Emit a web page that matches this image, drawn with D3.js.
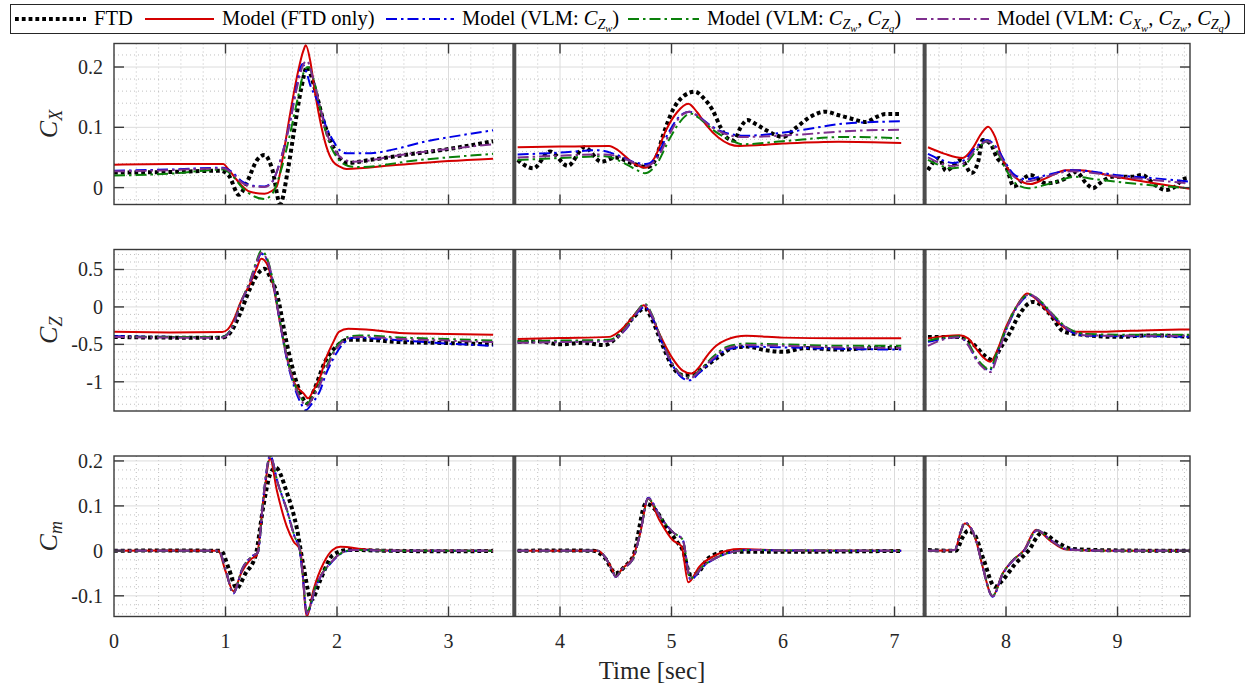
<!DOCTYPE html>
<html>
<head>
<meta charset="utf-8">
<script src="https://cdn.jsdelivr.net/npm/d3@7/dist/d3.min.js"></script>
<style>
  body { margin: 0; background: #fff; }
  svg { display: block; font-family: "Liberation Serif", "DejaVu Serif", serif; }
</style>
</head>
<body>
<svg id="chart" width="1249" height="687"></svg>
<script>
// ---- eixos / ticks ----
const xTicks = [0, 1, 2, 3, 4, 5, 6, 7, 8, 9];
const separators = [3.59, 7.27];
const cxTicks = [0, 0.1, 0.2];
const cxTickLabels = ['0', '0.1', '0.2'];
const czTicks = [-1, -0.5, 0, 0.5];
const czTickLabels = ['-1', '-0.5', '0', '0.5'];
const cmTicks = [-0.1, 0, 0.1, 0.2];
const cmTickLabels = ['-0.1', '0', '0.1', '0.2'];

// ---- C_X ----
const cx1Ftd = [[0,0.025],[0.5,0.026],[0.95,0.028],[1.03,0.02],[1.12,-0.012],[1.2,0.012],[1.28,0.045],[1.35,0.054],[1.42,0.03],[1.49,-0.027],[1.56,0.03],[1.62,0.10],[1.68,0.165],[1.73,0.200],[1.80,0.165],[1.88,0.11],[1.97,0.066],[2.09,0.041],[2.3,0.046],[2.56,0.053],[3.0,0.064],[3.40,0.077]];
const cx1Model = [[0,0.038],[0.5,0.039],[0.98,0.039],[1.02,0.032],[1.1,0.013],[1.22,-0.007],[1.35,-0.010],[1.41,-0.006],[1.46,0.002],[1.52,0.057],[1.58,0.123],[1.64,0.183],[1.70,0.228],[1.72,0.236],[1.76,0.21],[1.80,0.161],[1.86,0.101],[1.905,0.068],[1.965,0.043],[2.025,0.035],[2.085,0.031],[2.5,0.037],[3.0,0.044],[3.40,0.048]];
const cx1Zw = [[0,0.028],[0.5,0.030],[0.98,0.033],[1.05,0.027],[1.15,0.01],[1.25,0.003],[1.35,0.002],[1.42,0.01],[1.5,0.05],[1.58,0.11],[1.64,0.17],[1.69,0.205],[1.72,0.195],[1.76,0.17],[1.83,0.142],[1.905,0.10],[1.965,0.078],[2.025,0.062],[2.085,0.057],[2.26,0.057],[2.86,0.079],[3.40,0.095]];
const cx1ZwZq = [[0,0.020],[0.5,0.023],[0.98,0.030],[1.05,0.022],[1.15,0.0],[1.25,-0.014],[1.35,-0.019],[1.42,-0.01],[1.5,0.03],[1.58,0.09],[1.65,0.15],[1.71,0.195],[1.74,0.200],[1.79,0.18],[1.85,0.13],[1.92,0.08],[2.0,0.05],[2.1,0.036],[2.2,0.034],[2.7,0.045],[3.40,0.056]];
const cx1XwZwZq = [[0,0.027],[0.5,0.029],[0.98,0.032],[1.05,0.025],[1.15,0.008],[1.25,0.002],[1.35,0.001],[1.42,0.01],[1.5,0.05],[1.58,0.11],[1.64,0.165],[1.70,0.205],[1.73,0.210],[1.78,0.185],[1.84,0.14],[1.9,0.095],[1.97,0.065],[2.05,0.048],[2.15,0.043],[2.6,0.055],[3.40,0.072]];

const cx2Ftd = [[3.62,0.046],[3.76,0.032],[3.91,0.060],[4.07,0.036],[4.22,0.067],[4.37,0.043],[4.50,0.050],[4.65,0.040],[4.79,0.034],[4.86,0.049],[4.93,0.09],[5.01,0.128],[5.11,0.152],[5.21,0.159],[5.29,0.148],[5.37,0.128],[5.44,0.10],[5.50,0.082],[5.56,0.078],[5.62,0.10],[5.68,0.112],[5.76,0.105],[5.85,0.095],[6.0,0.084],[6.12,0.10],[6.25,0.118],[6.38,0.126],[6.50,0.12],[6.60,0.115],[6.74,0.109],[6.85,0.118],[6.92,0.122],[7.06,0.122]];
const cx2Model = [[3.62,0.067],[4.0,0.068],[4.44,0.069],[4.52,0.062],[4.59,0.051],[4.68,0.038],[4.77,0.033],[4.85,0.05],[4.95,0.095],[5.05,0.125],[5.15,0.139],[5.23,0.125],[5.31,0.104],[5.42,0.083],[5.52,0.072],[5.61,0.069],[6.0,0.073],[6.5,0.076],[7.06,0.074]];
const cx2Zw = [[3.62,0.055],[4.0,0.058],[4.35,0.062],[4.5,0.055],[4.65,0.043],[4.77,0.039],[4.86,0.05],[4.97,0.09],[5.07,0.118],[5.16,0.126],[5.25,0.117],[5.35,0.103],[5.45,0.093],[5.55,0.088],[5.65,0.086],[6.15,0.095],[6.54,0.106],[7.06,0.110]];
const cx2ZwZq = [[3.62,0.046],[4.0,0.049],[4.4,0.052],[4.55,0.043],[4.68,0.03],[4.76,0.024],[4.87,0.04],[4.98,0.08],[5.08,0.11],[5.17,0.123],[5.27,0.112],[5.4,0.092],[5.52,0.08],[5.64,0.072],[6.0,0.077],[6.54,0.084],[7.06,0.082]];
const cx2XwZwZq = [[3.62,0.050],[4.0,0.053],[4.4,0.055],[4.55,0.05],[4.68,0.04],[4.77,0.036],[4.87,0.048],[4.98,0.088],[5.08,0.118],[5.16,0.126],[5.26,0.115],[5.38,0.098],[5.5,0.088],[5.62,0.084],[6.15,0.088],[6.6,0.094],[7.06,0.096]];

const cx3Ftd = [[7.30,0.029],[7.40,0.049],[7.46,0.028],[7.60,0.046],[7.69,0.024],[7.75,0.043],[7.79,0.079],[7.86,0.073],[7.92,0.049],[8.00,0.035],[8.07,0.002],[8.18,0.018],[8.22,0.021],[8.36,0.007],[8.51,0.013],[8.63,0.026],[8.72,0.007],[8.78,-0.001],[8.84,0.007],[8.95,0.018],[9.13,0.018],[9.22,0.021],[9.34,0.004],[9.43,-0.004],[9.52,0.002],[9.58,0.013],[9.64,0.016]];
const cx3Model = [[7.30,0.067],[7.45,0.056],[7.61,0.049],[7.7,0.065],[7.78,0.09],[7.84,0.101],[7.9,0.085],[7.97,0.046],[8.03,0.028],[8.09,0.016],[8.22,0.006],[8.35,0.015],[8.54,0.029],[8.66,0.029],[8.98,0.018],[9.3,0.008],[9.65,-0.002]];
const cx3Zw = [[7.30,0.056],[7.42,0.046],[7.52,0.041],[7.62,0.045],[7.72,0.065],[7.83,0.079],[7.92,0.065],[8.0,0.04],[8.06,0.024],[8.18,0.014],[8.35,0.02],[8.59,0.029],[8.8,0.026],[8.98,0.021],[9.3,0.016],[9.65,0.010]];
const cx3ZwZq = [[7.30,0.046],[7.42,0.036],[7.52,0.032],[7.62,0.036],[7.72,0.058],[7.83,0.077],[7.92,0.06],[8.0,0.03],[8.1,0.005],[8.2,-0.001],[8.4,0.007],[8.62,0.018],[8.8,0.014],[8.98,0.010],[9.3,0.004],[9.65,-0.001]];
const cx3XwZwZq = [[7.30,0.050],[7.42,0.040],[7.52,0.036],[7.62,0.04],[7.72,0.062],[7.83,0.077],[7.92,0.062],[8.0,0.036],[8.06,0.02],[8.18,0.010],[8.35,0.018],[8.59,0.027],[8.8,0.024],[8.98,0.019],[9.3,0.013],[9.65,0.007]];

// ---- C_Z ----
const cz1Ftd = [[0,-0.40],[0.5,-0.41],[0.97,-0.41],[1.05,-0.33],[1.13,-0.09],[1.22,0.245],[1.30,0.46],[1.35,0.51],[1.40,0.40],[1.46,0.18],[1.55,-0.49],[1.64,-1.02],[1.74,-1.29],[1.80,-1.09],[1.90,-0.71],[2.0,-0.52],[2.09,-0.44],[2.26,-0.44],[2.56,-0.47],[2.9,-0.48],[3.40,-0.50]];
const cz1Model = [[0,-0.333],[0.5,-0.34],[0.97,-0.335],[1.02,-0.30],[1.08,-0.15],[1.13,0.045],[1.22,0.31],[1.28,0.52],[1.32,0.645],[1.37,0.58],[1.43,0.27],[1.49,-0.22],[1.55,-0.67],[1.62,-1.02],[1.70,-1.155],[1.74,-1.22],[1.79,-1.11],[1.85,-0.93],[1.90,-0.69],[1.96,-0.49],[2.02,-0.33],[2.10,-0.29],[2.26,-0.30],[2.56,-0.347],[3.0,-0.36],[3.40,-0.37]];
const cz1Zw = [[0,-0.39],[0.5,-0.40],[0.97,-0.40],[1.02,-0.36],[1.08,-0.2],[1.13,0.02],[1.22,0.33],[1.28,0.58],[1.32,0.71],[1.37,0.63],[1.43,0.30],[1.49,-0.22],[1.55,-0.70],[1.62,-1.08],[1.68,-1.30],[1.72,-1.38],[1.77,-1.30],[1.85,-1.11],[1.90,-0.9],[1.96,-0.71],[2.05,-0.50],[2.15,-0.41],[2.5,-0.44],[3.0,-0.49],[3.40,-0.52]];
const cz1ZwZq = [[0,-0.40],[0.5,-0.40],[0.97,-0.40],[1.02,-0.36],[1.08,-0.2],[1.13,0.03],[1.22,0.35],[1.28,0.62],[1.32,0.75],[1.37,0.66],[1.43,0.32],[1.49,-0.2],[1.55,-0.66],[1.62,-1.03],[1.68,-1.22],[1.73,-1.29],[1.78,-1.2],[1.85,-1.0],[1.92,-0.75],[2.0,-0.52],[2.1,-0.40],[2.2,-0.38],[2.6,-0.41],[3.0,-0.43],[3.40,-0.45]];
const cz1XwZwZq = [[0,-0.40],[0.5,-0.41],[0.97,-0.41],[1.02,-0.37],[1.08,-0.2],[1.13,0.03],[1.22,0.34],[1.28,0.6],[1.32,0.72],[1.37,0.64],[1.43,0.31],[1.49,-0.21],[1.55,-0.68],[1.62,-1.05],[1.68,-1.25],[1.73,-1.32],[1.78,-1.22],[1.85,-1.03],[1.92,-0.78],[2.0,-0.55],[2.1,-0.42],[2.2,-0.40],[2.6,-0.43],[3.0,-0.45],[3.40,-0.47]];

const cz2Ftd = [[3.62,-0.47],[3.8,-0.46],[4.0,-0.5],[4.2,-0.48],[4.4,-0.51],[4.5,-0.42],[4.65,-0.155],[4.76,-0.02],[4.82,-0.15],[4.9,-0.44],[5.01,-0.80],[5.1,-0.91],[5.2,-0.89],[5.3,-0.8],[5.40,-0.69],[5.55,-0.55],[5.67,-0.53],[5.85,-0.58],[6.0,-0.60],[6.2,-0.55],[6.5,-0.57],[6.8,-0.55],[7.06,-0.55]];
const cz2Model = [[3.62,-0.43],[4.0,-0.415],[4.44,-0.40],[4.52,-0.34],[4.59,-0.244],[4.67,-0.1],[4.75,0.023],[4.82,-0.12],[4.89,-0.355],[5.01,-0.69],[5.1,-0.85],[5.18,-0.89],[5.25,-0.8],[5.31,-0.67],[5.4,-0.52],[5.49,-0.44],[5.67,-0.386],[6.0,-0.41],[6.5,-0.42],[7.06,-0.42]];
const cz2Zw = [[3.62,-0.47],[4.0,-0.46],[4.44,-0.45],[4.52,-0.39],[4.6,-0.28],[4.68,-0.10],[4.76,0.0],[4.83,-0.15],[4.9,-0.42],[5.01,-0.78],[5.1,-0.95],[5.16,-0.98],[5.25,-0.88],[5.37,-0.71],[5.5,-0.57],[5.67,-0.53],[6.0,-0.54],[6.5,-0.56],[7.06,-0.57]];
const cz2ZwZq = [[3.62,-0.46],[4.0,-0.45],[4.44,-0.44],[4.52,-0.38],[4.6,-0.26],[4.68,-0.08],[4.76,0.04],[4.83,-0.12],[4.9,-0.40],[5.01,-0.76],[5.1,-0.92],[5.16,-0.95],[5.25,-0.85],[5.37,-0.67],[5.5,-0.53],[5.67,-0.49],[6.0,-0.50],[6.5,-0.52],[7.06,-0.52]];
const cz2XwZwZq = [[3.62,-0.48],[4.0,-0.47],[4.44,-0.46],[4.52,-0.40],[4.6,-0.27],[4.68,-0.09],[4.76,0.03],[4.83,-0.13],[4.9,-0.41],[5.01,-0.77],[5.1,-0.93],[5.16,-0.96],[5.25,-0.86],[5.37,-0.69],[5.5,-0.55],[5.67,-0.51],[6.0,-0.52],[6.5,-0.54],[7.06,-0.55]];

const cz3Ftd = [[7.30,-0.40],[7.45,-0.40],[7.58,-0.40],[7.68,-0.47],[7.73,-0.53],[7.80,-0.64],[7.88,-0.71],[7.95,-0.55],[8.03,-0.355],[8.12,-0.1],[8.24,0.067],[8.32,0.02],[8.39,-0.09],[8.52,-0.33],[8.72,-0.377],[9.0,-0.40],[9.3,-0.38],[9.65,-0.40]];
const cz3Model = [[7.30,-0.42],[7.45,-0.39],[7.58,-0.377],[7.66,-0.42],[7.73,-0.555],[7.80,-0.68],[7.86,-0.733],[7.93,-0.55],[8.00,-0.267],[8.1,0.02],[8.19,0.18],[8.28,0.09],[8.39,-0.09],[8.5,-0.25],[8.60,-0.333],[8.9,-0.33],[9.3,-0.31],[9.65,-0.30]];
const cz3Zw = [[7.30,-0.467],[7.45,-0.42],[7.58,-0.40],[7.66,-0.50],[7.74,-0.71],[7.80,-0.80],[7.85,-0.853],[7.92,-0.62],[8.00,-0.31],[8.1,0.0],[8.22,0.156],[8.3,0.08],[8.42,-0.12],[8.55,-0.3],[8.72,-0.386],[9.0,-0.39],[9.3,-0.39],[9.65,-0.40]];
const cz3ZwZq = [[7.30,-0.45],[7.45,-0.41],[7.58,-0.39],[7.66,-0.48],[7.74,-0.69],[7.80,-0.79],[7.85,-0.84],[7.92,-0.6],[8.00,-0.29],[8.1,0.02],[8.21,0.17],[8.3,0.09],[8.42,-0.10],[8.55,-0.28],[8.72,-0.36],[9.0,-0.37],[9.3,-0.37],[9.65,-0.37]];
const cz3XwZwZq = [[7.30,-0.52],[7.45,-0.43],[7.58,-0.405],[7.66,-0.51],[7.74,-0.72],[7.80,-0.82],[7.86,-0.87],[7.93,-0.62],[8.00,-0.31],[8.1,0.01],[8.21,0.165],[8.3,0.085],[8.42,-0.11],[8.55,-0.29],[8.72,-0.38],[9.0,-0.385],[9.3,-0.385],[9.65,-0.39]];

// ---- C_m ----
const cm1Ftd = [[0,0],[0.5,0.001],[0.96,0],[1.03,-0.04],[1.10,-0.083],[1.18,-0.050],[1.27,-0.010],[1.34,0.10],[1.40,0.17],[1.45,0.185],[1.55,0.13],[1.64,0.05],[1.70,-0.035],[1.77,-0.109],[1.85,-0.065],[1.96,-0.010],[2.1,0.002],[2.5,0.0],[3.0,-0.001],[3.40,0]];
const cm1Model = [[0,0],[0.5,0.001],[0.935,0],[1.0,-0.045],[1.07,-0.090],[1.14,-0.050],[1.23,-0.018],[1.28,-0.010],[1.34,0.113],[1.40,0.205],[1.46,0.135],[1.55,0.054],[1.61,0.021],[1.67,0.002],[1.73,-0.146],[1.79,-0.086],[1.88,-0.027],[1.96,0.002],[2.03,0.009],[2.26,0.003],[2.6,0],[3.40,0]];
const cm1Zw = [[0,0],[0.5,0],[0.94,0],[1.0,-0.04],[1.07,-0.095],[1.15,-0.04],[1.25,-0.01],[1.29,-0.004],[1.34,0.12],[1.40,0.212],[1.47,0.15],[1.55,0.091],[1.63,0.025],[1.66,0.01],[1.69,-0.049],[1.73,-0.140],[1.81,-0.080],[1.96,-0.023],[2.03,-0.007],[2.15,0.002],[2.6,0],[3.40,0]];
const cm1ZwZq = [[0,0],[0.5,0],[0.94,0],[1.0,-0.04],[1.07,-0.093],[1.15,-0.04],[1.25,-0.01],[1.29,-0.004],[1.34,0.12],[1.40,0.210],[1.47,0.15],[1.55,0.092],[1.63,0.026],[1.66,0.011],[1.69,-0.047],[1.73,-0.135],[1.81,-0.078],[1.96,-0.021],[2.03,-0.006],[2.15,0.002],[2.6,0],[3.40,0]];
const cm1XwZwZq = [[0,0],[0.5,0],[0.94,0],[1.0,-0.04],[1.07,-0.094],[1.15,-0.04],[1.25,-0.01],[1.29,-0.004],[1.34,0.12],[1.40,0.211],[1.47,0.15],[1.55,0.091],[1.63,0.025],[1.66,0.01],[1.69,-0.049],[1.73,-0.138],[1.81,-0.079],[1.96,-0.022],[2.03,-0.006],[2.15,0.002],[2.6,0],[3.40,0]];

const cm2Ftd = [[3.62,0],[4.0,0.001],[4.3,0],[4.4,-0.015],[4.50,-0.05],[4.58,-0.035],[4.66,-0.009],[4.77,0.105],[4.86,0.09],[4.95,0.054],[5.05,0.02],[5.1,0.002],[5.17,-0.053],[5.23,-0.05],[5.33,-0.016],[5.5,-0.002],[6.0,-0.002],[7.06,0.0]];
const cm2Model = [[3.62,0],[4.0,0],[4.34,0],[4.42,-0.02],[4.47,-0.042],[4.50,-0.057],[4.56,-0.039],[4.65,-0.016],[4.72,0.04],[4.79,0.117],[4.89,0.069],[5.01,0.024],[5.09,0.01],[5.15,-0.070],[5.25,-0.035],[5.40,-0.009],[5.61,0.004],[6.0,0.001],[7.06,0]];
const cm2Zw = [[3.62,0],[4.0,0],[4.34,0],[4.42,-0.02],[4.47,-0.045],[4.50,-0.058],[4.56,-0.04],[4.65,-0.02],[4.72,0.04],[4.79,0.118],[4.9,0.075],[5.02,0.04],[5.10,0.025],[5.17,-0.064],[5.28,-0.036],[5.45,-0.01],[5.7,0.002],[6.0,0.001],[7.06,0]];
const cm2ZwZq = [[3.62,0],[4.0,0],[4.34,0],[4.42,-0.02],[4.47,-0.044],[4.50,-0.057],[4.56,-0.04],[4.65,-0.02],[4.72,0.04],[4.79,0.116],[4.9,0.075],[5.02,0.04],[5.10,0.025],[5.17,-0.061],[5.28,-0.034],[5.45,-0.01],[5.7,0.002],[6.0,0.001],[7.06,0]];
const cm2XwZwZq = [[3.62,0],[4.0,0],[4.34,0],[4.42,-0.02],[4.47,-0.045],[4.50,-0.058],[4.56,-0.04],[4.65,-0.02],[4.72,0.04],[4.79,0.117],[4.9,0.075],[5.02,0.04],[5.10,0.025],[5.17,-0.062],[5.28,-0.035],[5.45,-0.01],[5.7,0.002],[6.0,0.001],[7.06,0]];

const cm3Ftd = [[7.30,0.002],[7.55,0],[7.61,0.03],[7.66,0.045],[7.72,0.035],[7.80,-0.02],[7.90,-0.08],[7.97,-0.065],[8.08,-0.03],[8.2,0.0],[8.32,0.04],[8.45,0.02],[8.6,0.004],[9.0,0.001],[9.65,0]];
const cm3Model = [[7.30,0],[7.54,0.002],[7.59,0.039],[7.63,0.061],[7.73,0.024],[7.79,-0.035],[7.88,-0.101],[7.97,-0.050],[8.06,-0.021],[8.16,0.001],[8.27,0.047],[8.39,0.024],[8.54,0.003],[9.0,0],[9.65,0]];
const cm3Zw = [[7.30,0],[7.54,0.002],[7.59,0.040],[7.63,0.063],[7.73,0.025],[7.79,-0.035],[7.88,-0.102],[7.97,-0.052],[8.06,-0.022],[8.16,0.0],[8.28,0.046],[8.40,0.024],[8.56,0.003],[9.0,0],[9.65,0]];
const cm3ZwZq = [[7.30,0],[7.54,0.002],[7.59,0.039],[7.63,0.062],[7.73,0.025],[7.79,-0.034],[7.88,-0.100],[7.97,-0.051],[8.06,-0.021],[8.16,0.0],[8.28,0.046],[8.40,0.024],[8.56,0.003],[9.0,0],[9.65,0]];
const cm3XwZwZq = [[7.30,0],[7.54,0.002],[7.59,0.040],[7.63,0.063],[7.73,0.025],[7.79,-0.035],[7.88,-0.101],[7.97,-0.051],[8.06,-0.022],[8.16,0.0],[8.28,0.046],[8.40,0.024],[8.56,0.003],[9.0,0],[9.65,0]];

// estilos das séries (mesma ordem da legenda)
const seriesStyles = [
  { name: 'FTD', color: '#000000', width: 4, dash: '3.8,3' },
  { name: 'Model (FTD only)', color: '#d40000', width: 2, dash: null },
  { name: 'Zw', color: '#0000e6', width: 2, dash: '11,4,2.5,4' },
  { name: 'ZwZq', color: '#0a800a', width: 2, dash: '11,4,2.5,4' },
  { name: 'XwZwZq', color: '#7e2f8e', width: 2, dash: '11,4,2.5,4' }
];

const panels = [
  { sub: 'X', top: 43.5, bottom: 204.5, domain: [-0.028, 0.239], ticks: cxTicks, labels: cxTickLabels, minor: 0.02,
    segs: [[cx1Ftd, cx1Model, cx1Zw, cx1ZwZq, cx1XwZwZq], [cx2Ftd, cx2Model, cx2Zw, cx2ZwZq, cx2XwZwZq], [cx3Ftd, cx3Model, cx3Zw, cx3ZwZq, cx3XwZwZq]] },
  { sub: 'Z', top: 249.5, bottom: 411, domain: [-1.39, 0.767], ticks: czTicks, labels: czTickLabels, minor: 0.1,
    segs: [[cz1Ftd, cz1Model, cz1Zw, cz1ZwZq, cz1XwZwZq], [cz2Ftd, cz2Model, cz2Zw, cz2ZwZq, cz2XwZwZq], [cz3Ftd, cz3Model, cz3Zw, cz3ZwZq, cz3XwZwZq]] },
  { sub: 'm', top: 456, bottom: 616.5, domain: [-0.146, 0.211], ticks: cmTicks, labels: cmTickLabels, minor: 0.02,
    segs: [[cm1Ftd, cm1Model, cm1Zw, cm1ZwZq, cm1XwZwZq], [cm2Ftd, cm2Model, cm2Zw, cm2ZwZq, cm2XwZwZq], [cm3Ftd, cm3Model, cm3Zw, cm3ZwZq, cm3XwZwZq]] }
];

const svg = d3.select('#chart');
const left = 114, right = 1190;
const x = d3.scaleLinear().domain([0, 9.65]).range([left, right]);
const axisColor = '#3a3a3a';
const textColor = '#262626';

panels.forEach((p, i) => {
  const y = d3.scaleLinear().domain(p.domain).range([p.bottom, p.top]);
  const g = svg.append('g');

  // grade secundária (pontilhada)
  const xMinor = d3.range(0, 9.65, 0.2).filter(v => Math.abs(v - Math.round(v)) > 1e-6);
  const yMinor = d3.range(Math.ceil(p.domain[0] / p.minor) * p.minor, p.domain[1], p.minor)
    .filter(v => !p.ticks.some(t => Math.abs(t - v) < 1e-6));
  g.append('g').selectAll('line').data(xMinor).join('line')
    .attr('x1', d => x(d)).attr('x2', d => x(d)).attr('y1', p.top).attr('y2', p.bottom)
    .attr('stroke', '#9a9a9a').attr('stroke-opacity', 0.7).attr('stroke-width', 0.9).attr('stroke-dasharray', '1,3');
  g.append('g').selectAll('line').data(yMinor).join('line')
    .attr('x1', left).attr('x2', right).attr('y1', d => y(d)).attr('y2', d => y(d))
    .attr('stroke', '#9a9a9a').attr('stroke-opacity', 0.7).attr('stroke-width', 0.9).attr('stroke-dasharray', '1,3');

  // grade principal
  g.append('g').selectAll('line').data(xTicks.slice(1)).join('line')
    .attr('x1', d => x(d)).attr('x2', d => x(d)).attr('y1', p.top).attr('y2', p.bottom)
    .attr('stroke', '#dcdcdc').attr('stroke-width', 1);
  g.append('g').selectAll('line').data(p.ticks).join('line')
    .attr('x1', left).attr('x2', right).attr('y1', d => y(d)).attr('y2', d => y(d))
    .attr('stroke', '#dcdcdc').attr('stroke-width', 1);

  // curvas
  const clipId = 'clip' + i;
  svg.append('clipPath').attr('id', clipId).append('rect')
    .attr('x', left).attr('y', p.top).attr('width', right - left).attr('height', p.bottom - p.top);
  const line = d3.line().x(d => x(d[0])).y(d => y(d[1])).curve(d3.curveMonotoneX);
  const curves = g.append('g').attr('clip-path', `url(#${clipId})`);
  p.segs.forEach(seg => {
    seg.forEach((data, k) => {
      const s = seriesStyles[k];
      curves.append('path').datum(data)
        .attr('d', line)
        .attr('fill', 'none')
        .attr('stroke', s.color)
        .attr('stroke-width', s.width)
        .attr('stroke-dasharray', s.dash)
        .attr('stroke-linejoin', 'round');
    });
  });

  // separadores entre manobras
  g.append('g').selectAll('line').data(separators).join('line')
    .attr('x1', d => x(d)).attr('x2', d => x(d)).attr('y1', p.top).attr('y2', p.bottom)
    .attr('stroke', '#4d4d4d').attr('stroke-width', 4);

  // caixa e ticks
  g.append('rect').attr('x', left).attr('y', p.top).attr('width', right - left).attr('height', p.bottom - p.top)
    .attr('fill', 'none').attr('stroke', axisColor).attr('stroke-width', 1.4);
  const tl = 10;
  const tickG = g.append('g').attr('stroke', axisColor).attr('stroke-width', 1.4);
  xTicks.slice(1).forEach(t => {
    tickG.append('line').attr('x1', x(t)).attr('x2', x(t)).attr('y1', p.top).attr('y2', p.top + tl);
    tickG.append('line').attr('x1', x(t)).attr('x2', x(t)).attr('y1', p.bottom).attr('y2', p.bottom - tl);
  });
  p.ticks.forEach(t => {
    tickG.append('line').attr('x1', left).attr('x2', left + tl).attr('y1', y(t)).attr('y2', y(t));
    tickG.append('line').attr('x1', right).attr('x2', right - tl).attr('y1', y(t)).attr('y2', y(t));
  });

  // rótulos dos ticks em y
  g.append('g').selectAll('text').data(p.ticks).join('text')
    .attr('x', 103).attr('y', d => y(d)).attr('dy', '0.35em')
    .attr('text-anchor', 'end').attr('font-size', 20).attr('fill', textColor)
    .text((d, j) => p.labels[j]);

  // rótulo do eixo y
  const cy = (p.top + p.bottom) / 2;
  const yl = g.append('text').attr('transform', `translate(57,${cy}) rotate(-90)`)
    .attr('text-anchor', 'middle').attr('fill', textColor).attr('font-style', 'italic');
  yl.append('tspan').attr('font-size', 26).text('C');
  yl.append('tspan').attr('font-size', 18).attr('dy', 5).text(p.sub);

  // rótulos do eixo x só no último painel
  if (i === panels.length - 1) {
    g.append('g').selectAll('text').data(xTicks).join('text')
      .attr('x', d => x(d)).attr('y', p.bottom + 31)
      .attr('text-anchor', 'middle').attr('font-size', 20).attr('fill', textColor)
      .text(d => d);
    g.append('text').attr('x', 652).attr('y', 679)
      .attr('text-anchor', 'middle').attr('font-size', 25).attr('fill', textColor)
      .text('Time [sec]');
  }
});

// ---- legenda ----
const legendLineX = [15, 145, 386, 628, 916];
const legendTextX = [94, 222, 462, 707, 997];
const legendTerms = [
  [],
  [],
  [['Z', 'w']],
  [['Z', 'w'], ['Z', 'q']],
  [['X', 'w'], ['Z', 'w'], ['Z', 'q']]
];
const legendBase = ['FTD', 'Model (FTD only)', 'Model (VLM: ', 'Model (VLM: ', 'Model (VLM: '];

const legend = svg.append('g');
legend.append('rect').attr('x', 10.5).attr('y', 4.5).attr('width', 1234).attr('height', 29)
  .attr('fill', '#fff').attr('stroke', '#262626').attr('stroke-width', 1);

seriesStyles.forEach((s, k) => {
  legend.append('line')
    .attr('x1', legendLineX[k]).attr('x2', legendTextX[k] - 8)
    .attr('y1', 19).attr('y2', 19)
    .attr('stroke', s.color).attr('stroke-width', s.width).attr('stroke-dasharray', s.dash);
  const t = legend.append('text').attr('x', legendTextX[k]).attr('y', 25)
    .attr('font-size', 20.5).attr('fill', '#000');
  t.append('tspan').text(legendBase[k]);
  const terms = legendTerms[k];
  let shift = 0;
  terms.forEach((term, j) => {
    if (j > 0) { t.append('tspan').attr('dy', -shift).text(', '); shift = 0; }
    t.append('tspan').attr('font-style', 'italic').attr('dy', -shift).text('C');
    t.append('tspan').attr('font-style', 'italic').attr('font-size', 14).attr('dy', 4).text(term[0]);
    t.append('tspan').attr('font-style', 'italic').attr('font-size', 10.5).attr('dy', 2.5).text(term[1]);
    shift = 6.5;
  });
  if (terms.length) t.append('tspan').attr('dy', -shift).text(')');
});
</script>
</body>
</html>
